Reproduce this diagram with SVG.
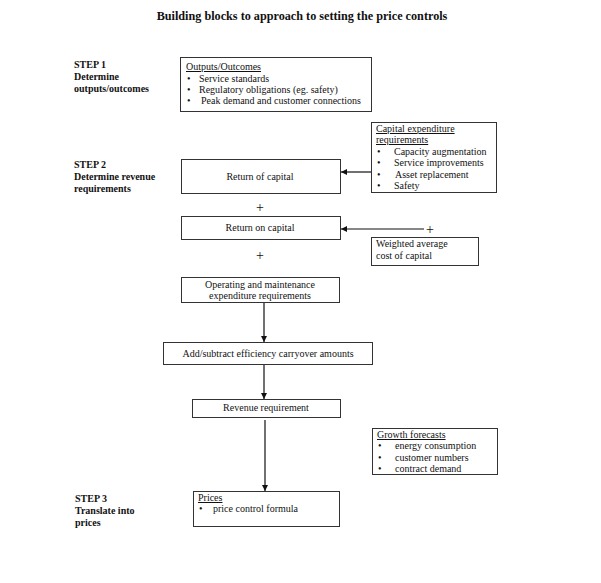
<svg xmlns="http://www.w3.org/2000/svg" width="601" height="583" viewBox="0 0 601 583">
<defs>
<marker id="ah" viewBox="0 0 10 10" refX="10" refY="5" markerWidth="6" markerHeight="6" orient="auto" markerUnits="userSpaceOnUse">
<path d="M0,0 L10,5 L0,10 z" fill="#111"/>
</marker>
</defs>
<style>
text{font-family:"Liberation Serif","Times New Roman",serif;fill:#111;font-size:10px}
.title{font-size:12.2px;font-weight:bold}
.step{font-weight:bold}
.box{fill:#fff;stroke:#333;stroke-width:1}
.con{stroke:#111;stroke-width:1.2;fill:none;marker-end:url(#ah)}
.u{text-decoration:underline}
.c{text-anchor:middle}
.plus{font-size:14px}
</style>
<rect width="601" height="583" fill="#fff"/>
<text class="title c" x="302" y="20">Building blocks to approach to setting the price controls</text>

<g id="step1"><text class="step" x="74" y="68">STEP 1</text><text class="step" x="74" y="80">Determine</text><text class="step" x="74" y="92">outputs/outcomes</text></g>
<g id="step2"><text class="step" x="74" y="168">STEP 2</text><text class="step" x="74" y="180">Determine revenue</text><text class="step" x="74" y="192">requirements</text></g>
<g id="step3"><text class="step" x="75" y="502">STEP 3</text><text class="step" x="75" y="514">Translate into</text><text class="step" x="75" y="526">prices</text></g>

<g id="outputs">
<rect class="box" x="180.5" y="57.5" width="191" height="54"/>
<text class="u" x="186" y="70">Outputs/Outcomes</text>
<text x="187" y="82">•</text><text x="199" y="82">Service standards</text>
<text x="187" y="93">•</text><text x="199" y="93">Regulatory obligations (eg. safety)</text>
<text x="187" y="104">•</text><text x="201" y="104">Peak demand and customer connections</text>
</g>

<g id="capex">
<rect class="box" x="371.5" y="122.5" width="125" height="70"/>
<text class="u" x="376" y="132">Capital expenditure</text>
<text class="u" x="376" y="143">requirements</text>
<text x="377" y="155">•</text><text x="394" y="155">Capacity augmentation</text>
<text x="377" y="166">•</text><text x="394" y="166">Service improvements</text>
<text x="377" y="178">•</text><text x="395" y="178">Asset replacement</text>
<text x="377" y="189">•</text><text x="394" y="189">Safety</text>
</g>

<g id="return-of-capital">
<rect class="box" x="181.5" y="159.5" width="159" height="34"/>
<text class="c" x="260" y="180">Return of capital</text>
</g>
<text class="c plus" x="260" y="212">+</text>

<g id="return-on-capital">
<rect class="box" x="181.5" y="216.5" width="159" height="23"/>
<text class="c" x="260" y="231">Return on capital</text>
</g>
<text class="c plus" x="430" y="234">+</text>

<g id="wacc">
<rect class="box" x="371.5" y="237.5" width="107" height="28"/>
<text x="376" y="247">Weighted average</text>
<text x="376" y="259">cost of capital</text>
</g>
<text class="c plus" x="260" y="260">+</text>

<g id="opex">
<rect class="box" x="181.5" y="277.5" width="158" height="25"/>
<text class="c" x="260" y="288">Operating and maintenance</text>
<text class="c" x="260" y="299">expenditure requirements</text>
</g>

<g id="efficiency">
<rect class="box" x="163.5" y="342.5" width="209" height="22"/>
<text class="c" x="268" y="357">Add/subtract efficiency carryover amounts</text>
</g>

<g id="revenue">
<rect class="box" x="192.5" y="399.5" width="148" height="18"/>
<text class="c" x="266" y="411">Revenue requirement</text>
</g>

<g id="growth">
<rect class="box" x="372.5" y="428.5" width="125" height="46"/>
<text class="u" x="377" y="438">Growth forecasts</text>
<text x="378" y="449">•</text><text x="395" y="449">energy consumption</text>
<text x="378" y="461">•</text><text x="395" y="461">customer numbers</text>
<text x="378" y="472">•</text><text x="395" y="472">contract demand</text>
</g>

<g id="prices">
<rect class="box" x="193.5" y="491.5" width="146" height="35"/>
<text class="u" x="198" y="501">Prices</text>
<text x="199" y="512">•</text><text x="213" y="512">price control formula</text>
</g>

<g id="connectors">
<line class="con" x1="371" y1="172" x2="341" y2="172"/>
<line class="con" x1="424" y1="229" x2="341" y2="229"/>
<line class="con" x1="264" y1="303" x2="264" y2="342"/>
<line class="con" x1="264" y1="365" x2="264" y2="399"/>
<line class="con" x1="265" y1="420" x2="265" y2="491"/>
</g>
</svg>
